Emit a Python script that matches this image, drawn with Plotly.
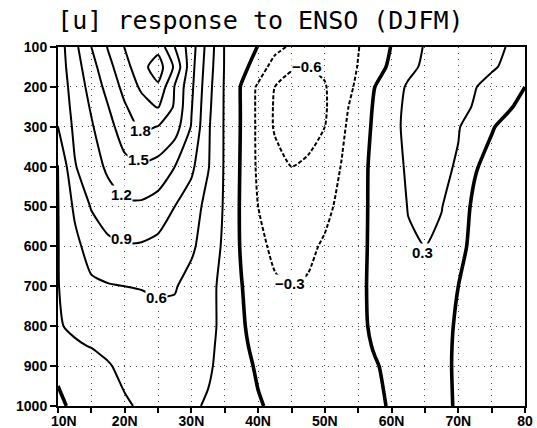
import plotly.graph_objects as go

# ---------------- data ----------------
lats = [10, 12.5, 15, 17.5, 20, 22.5, 25, 27.5, 30, 32.5, 35, 37.5, 40, 42.5, 45,
        47.5, 50, 52.5, 55, 57.5, 60, 62.5, 65, 67.5, 70, 72.5, 75, 77.5, 80]
levels = [100, 150, 200, 250, 300, 400, 500, 600, 700, 800, 850, 900, 1000]

u_100 = [0.75, 1.12, 1.50, 1.82, 2.11, 2.25, 2.30, 1.80, 1.34, 0.78, 0.28, 0.15, -0.01, -0.20, -0.35,
         -0.45, -0.48, -0.42, -0.31, -0.15, 0.01, 0.17, 0.32, 0.38, 0.40, 0.39, 0.35, 0.29, 0.22]
u_150 = [0.75, 1.06, 1.39, 1.71, 1.99, 2.30, 2.55, 2.05, 1.30, 0.74, 0.28, 0.08, -0.12, -0.44, -0.58,
         -0.60, -0.55, -0.44, -0.29, -0.12, 0.06, 0.24, 0.34, 0.40, 0.42, 0.40, 0.33, 0.25, 0.12]
u_200 = [0.72, 1.02, 1.30, 1.60, 1.89, 2.15, 2.35, 1.78, 1.26, 0.70, 0.27, -0.02, -0.35, -0.60, -0.67,
         -0.68, -0.62, -0.42, -0.25, 0.00, 0.19, 0.33, 0.38, 0.40, 0.38, 0.31, 0.22, 0.10, 0.00]
u_250 = [0.68, 0.99, 1.23, 1.49, 1.77, 1.98, 2.12, 1.76, 1.22, 0.67, 0.27, -0.02, -0.36, -0.63, -0.70,
         -0.70, -0.63, -0.40, -0.16, 0.03, 0.22, 0.35, 0.40, 0.41, 0.37, 0.28, 0.18, 0.03, -0.08]
u_300 = [0.60, 0.96, 1.17, 1.40, 1.65, 1.86, 1.79, 1.64, 1.18, 0.64, 0.27, -0.02, -0.36, -0.63, -0.72,
         -0.72, -0.60, -0.35, -0.15, 0.05, 0.24, 0.35, 0.40, 0.38, 0.32, 0.15, 0.02, -0.08, -0.12]
u_400 = [0.29, 0.88, 1.07, 1.25, 1.42, 1.46, 1.40, 1.20, 0.96, 0.62, 0.27, -0.03, -0.35, -0.50, -0.60,
         -0.55, -0.45, -0.29, -0.10, 0.07, 0.22, 0.33, 0.38, 0.36, 0.27, 0.02, -0.08, -0.12, -0.12]
u_500 = [0.29, 0.65, 0.92, 1.07, 1.15, 1.15, 1.07, 0.90, 0.75, 0.50, 0.27, -0.04, -0.30, -0.42, -0.48,
         -0.45, -0.38, -0.22, -0.08, 0.06, 0.17, 0.31, 0.34, 0.31, 0.12, -0.05, -0.10, -0.12, -0.12]
u_600 = [0.29, 0.52, 0.72, 0.83, 0.88, 0.87, 0.82, 0.74, 0.65, 0.45, 0.25, -0.03, -0.24, -0.35, -0.40,
         -0.36, -0.26, -0.16, -0.06, 0.05, 0.16, 0.27, 0.30, 0.24, 0.06, -0.06, -0.10, -0.11, -0.11]
u_700 = [0.29, 0.45, 0.55, 0.58, 0.60, 0.61, 0.63, 0.62, 0.50, 0.38, 0.22, 0.01, -0.17, -0.27, -0.31,
         -0.27, -0.20, -0.13, -0.05, 0.05, 0.14, 0.19, 0.19, 0.13, 0.00, -0.08, -0.10, -0.10, -0.10]
u_800 = [0.28, 0.34, 0.40, 0.45, 0.48, 0.50, 0.52, 0.52, 0.47, 0.38, 0.22, 0.03, -0.10, -0.17, -0.20,
         -0.18, -0.14, -0.10, -0.04, 0.03, 0.09, 0.12, 0.12, 0.07, -0.03, -0.07, -0.08, -0.08, -0.08]
u_850 = [0.18, 0.27, 0.31, 0.36, 0.42, 0.46, 0.49, 0.49, 0.45, 0.36, 0.21, 0.05, -0.07, -0.13, -0.16,
         -0.15, -0.12, -0.09, -0.04, 0.01, 0.06, 0.09, 0.09, 0.05, -0.03, -0.06, -0.07, -0.07, -0.07]
u_900 = [0.05, 0.14, 0.20, 0.28, 0.36, 0.42, 0.45, 0.46, 0.42, 0.34, 0.20, 0.07, -0.03, -0.09, -0.12,
         -0.12, -0.10, -0.07, -0.04, -0.01, 0.03, 0.06, 0.06, 0.03, -0.02, -0.05, -0.06, -0.06, -0.06]
u_1000 = [-0.05, 0.05, 0.13, 0.20, 0.27, 0.33, 0.37, 0.37, 0.34, 0.27, 0.17, 0.08, 0.02, -0.04, -0.07,
          -0.07, -0.06, -0.05, -0.03, -0.02, 0.01, 0.03, 0.03, 0.02, -0.01, -0.03, -0.04, -0.04, -0.04]

x_tick_vals = [10, 15, 20, 25, 30, 35, 40, 45, 50, 55, 60, 65, 70, 75, 80]
x_tick_text = ["\u00a0\u00a0\u00a010N", "", "20N", "", "30N", "", "40N", "", "50N", "", "60N", "",
               "70N", "", "80"]
y_tick_vals = [100, 200, 300, 400, 500, 600, 700, 800, 900, 1000]

# contour labels (text, lat, pressure)
label_text = ["1.8", "1.5", "1.2", "0.9", "0.6", "0.3", "-0.6", "-0.3"]
label_lat = [22.3, 22.0, 19.5, 19.5, 24.8, 64.6, 47.3, 44.8]
label_p = [310, 383, 471, 580, 727, 614, 149, 693]

z = [u_100, u_150, u_200, u_250, u_300, u_400, u_500, u_600, u_700, u_800, u_850, u_900, u_1000]

fig = go.Figure()
common = dict(x=lats, y=levels, z=z, showscale=False, hoverinfo="skip", autocontour=False)
fig.add_trace(go.Contour(**common,
                         contours=dict(start=0.3, end=2.45, size=0.3, coloring="none"),
                         line=dict(color="black", width=2, smoothing=0.6)))
fig.add_trace(go.Contour(**common,
                         contours=dict(start=0, end=0, size=1, coloring="none"),
                         line=dict(color="black", width=3.6, smoothing=0.6)))
fig.add_trace(go.Contour(**common,
                         contours=dict(start=-0.9, end=-0.3, size=0.3, coloring="none"),
                         line=dict(color="black", width=2, dash="4px,2px", smoothing=0.6)))

for t, la, pp in zip(label_text, label_lat, label_p):
    fig.add_annotation(x=la, y=pp, text="<b>" + t.replace("-", "\u2212") + "</b>", showarrow=False,
                       font=dict(family="Liberation Sans", size=15, color="black"),
                       bgcolor="white", borderpad=0)

tick_font = dict(family="Liberation Sans", size=14, color="black", weight="bold")
grid_style = dict(showgrid=True, gridcolor="#444", griddash="1px,5px", gridwidth=1)
fig.update_xaxes(range=[10, 80], tickmode="array", tickvals=x_tick_vals, ticktext=x_tick_text,
                 ticks="outside", ticklen=5, tickwidth=1.5, tickcolor="black",
                 ticklabelstandoff=-4,
                 showline=True, linecolor="black", linewidth=2, mirror=True,
                 zeroline=False, tickfont=tick_font, automargin=False, **grid_style)
fig.update_yaxes(range=[1000, 100], tickmode="array", tickvals=y_tick_vals,
                 ticks="outside", ticklen=6, tickwidth=1.5, tickcolor="black",
                 showline=True, linecolor="black", linewidth=2, mirror=True,
                 zeroline=False, tickfont=tick_font, automargin=False, **grid_style)

fig.update_layout(
    width=537, height=428,
    margin=dict(l=58, r=12, t=47, b=22, autoexpand=False),
    paper_bgcolor="white", plot_bgcolor="white",
    showlegend=False,
    title=dict(text="[u] response to ENSO (DJFM)", x=0.485, xanchor="center",
               y=0.953, yanchor="middle",
               font=dict(family="DejaVu Sans Mono", size=25, color="black")),
)

fig.write_html("out.html", config={"displayModeBar": False},
               post_script="document.body.style.margin='0';document.body.style.overflow='hidden';")
